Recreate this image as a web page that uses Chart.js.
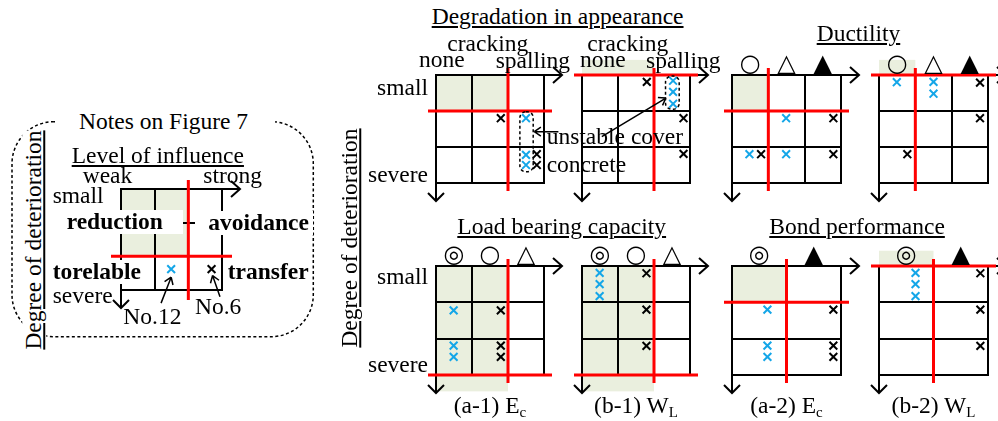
<!DOCTYPE html>
<html>
<head>
<meta charset="utf-8">
<script src="https://cdn.jsdelivr.net/npm/chart.js@4"></script>
<style>
html, body { margin: 0; padding: 0; background: #fff; overflow: hidden; }
#page { position: relative; width: 998px; height: 421px; overflow: hidden;
        font-family: "Liberation Serif", "Times New Roman", serif; font-size: 23.5px; color: #000; }
#page canvas { position: absolute; }
.lbl { position: absolute; white-space: nowrap; line-height: 1; z-index: 5; }
.u { text-decoration: underline; text-decoration-thickness: 1.5px; text-underline-offset: 2px; }
.b { font-weight: bold; }
.bg { background: #fff; }
.sym { font-family: "DejaVu Sans"; font-size: 24px; }
sub { font-size: 15px; vertical-align: -4px; line-height: 0; }
</style>
</head>
<body>
<div id="page">
  <svg width="998" height="421" style="position:absolute;left:0;top:0">
    <rect x="12" y="121.7" width="301.3" height="215" rx="42" ry="42"
          fill="none" stroke="#000" stroke-width="1.5" stroke-dasharray="3 2.5"/>
  </svg>
</div>
<script>
// marker positions in grid units: [column, row from top]
const a1DegCyan   = [[2.5, 1.2], [2.5, 2.22], [2.5, 2.5]];
const a1DegBlack  = [[1.8, 1.2], [2.8, 2.2], [2.8, 2.5]];
const b1DegCyan   = [[2.53, 0.16], [2.53, 0.47], [2.53, 0.8]];
const b1DegBlack  = [[1.8, 0.19], [2.82, 1.2], [2.82, 2.19]];
const a2DucCyan   = [[1.49, 1.2], [0.48, 2.2], [1.49, 2.2]];
const a2DucBlack  = [[2.79, 1.2], [0.8, 2.2], [2.79, 2.2]];
const b2DucCyan   = [[0.49, 0.2], [1.5, 0.19], [1.5, 0.52]];
const b2DucBlack  = [[2.78, 0.21], [2.78, 1.2], [0.78, 2.2]];
const a1LoadCyan  = [[0.49, 1.22], [0.49, 2.19], [0.49, 2.5]];
const a1LoadBlack = [[1.8, 1.22], [1.8, 2.19], [1.8, 2.5]];
const b1LoadCyan  = [[0.49, 0.19], [0.49, 0.5], [0.49, 0.83]];
const b1LoadBlack = [[1.79, 0.2], [1.79, 1.2], [1.79, 2.2]];
const a2BondCyan  = [[0.65, 1.2], [0.65, 2.19], [0.65, 2.5]];
const a2BondBlack = [[1.86, 1.2], [1.86, 2.19], [1.86, 2.5]];
const b2BondCyan  = [[0.67, 0.19], [0.67, 0.5], [0.67, 0.83]];
const b2BondBlack = [[1.86, 0.2], [1.86, 1.2], [1.86, 2.2]];
const notesCyan   = [[1.49, 2.38]];
const notesBlack  = [[2.69, 2.38]];

// column headers and captions
const ductilityHeads = ['○', '△', '▲'];
const loadHeads = ['◎', '○', '△'];
const bondHeads = ['◎', '▲'];
const captions = ['(a-1) E<sub>c</sub>', '(b-1) W<sub>L</sub>', '(a-2) E<sub>c</sub>', '(b-2) W<sub>L</sub>'];

const CYAN = '#14a6e8';
const RED = '#ff0000';
const SHADE = '#eaefde';
const FS = 23.5;
const page = document.getElementById('page');

const panels = [
  { left: 436, top: 75, w: 108, h: 108, cols: 3, shade: [0, 2, 0, 1], red: [2, 1],
    cyan: a1DegCyan, black: a1DegBlack,
    boxes: [[2.33, 2.70, 1.02, 2.69]], callouts: [[3.4, 1.575, 2.73, 1.575]] },
  { left: 582, top: 75, w: 108, h: 108, cols: 3, shade: [0, 2, -0.42, 0], red: [2, 0],
    cyan: b1DegCyan, black: b1DegBlack,
    boxes: [[2.32, 2.70, 0.03, 0.95]], callouts: [[0.55, 1.71, 2.33, 0.64]] },
  { left: 732, top: 75, w: 109, h: 108, cols: 3, shade: [0, 1, 0, 1], red: [1, 1],
    cyan: a2DucCyan, black: a2DucBlack, heads: ductilityHeads },
  { left: 879, top: 75, w: 109, h: 108, cols: 3, shade: [0, 1, -0.42, 0], red: [1, 0],
    cyan: b2DucCyan, black: b2DucBlack, heads: ductilityHeads },
  { left: 436, top: 266, w: 108, h: 109, cols: 3, shade: [0, 2, 0, 3.45], red: [2, 3],
    cyan: a1LoadCyan, black: a1LoadBlack, heads: loadHeads, caption: captions[0] },
  { left: 582, top: 266, w: 108, h: 109, cols: 3, shade: [0, 2, 0, 3.45], red: [2, 3],
    cyan: b1LoadCyan, black: b1LoadBlack, heads: loadHeads, caption: captions[1] },
  { left: 732, top: 266, w: 109, h: 109, cols: 2, shade: [0, 1, 0, 1], red: [1, 1],
    cyan: a2BondCyan, black: a2BondBlack, heads: bondHeads, caption: captions[2] },
  { left: 879, top: 266, w: 109, h: 109, cols: 2, shade: [0, 1, -0.42, 0], red: [1, 0],
    cyan: b2BondCyan, black: b2BondBlack, heads: bondHeads, caption: captions[3] },
  // notes on figure 7
  { left: 121, top: 189, w: 101, h: 101, cols: 3, shade: [0, 2, 0, 2], red: [2, 2], ext: 10,
    cyan: notesCyan, black: notesBlack,
    callouts: [[1.19, 3.39, 1.49, 2.62], [2.94, 3.2, 2.72, 2.57]] }
];

function drawArrow(ctx, x0, y0, x1, y1, len) {
  const ang = Math.atan2(y1 - y0, x1 - x0);
  ctx.beginPath();
  ctx.moveTo(x0, y0);
  ctx.lineTo(x1, y1);
  for (const s of [-1, 1]) {
    ctx.moveTo(x1, y1);
    ctx.lineTo(x1 - len * Math.cos(ang + s * 0.6), y1 - len * Math.sin(ang + s * 0.6));
  }
  ctx.stroke();
}

function decoPlugin(p) {
  const ext = p.ext || 8;
  const AR = 18;
  return {
    id: 'deco',
    beforeDraw(chart) {
      const { ctx, scales: { x, y } } = chart;
      const [sx0, sx1, sy0, sy1] = p.shade;
      const l = x.getPixelForValue(sx0), r = x.getPixelForValue(sx1);
      const t = y.getPixelForValue(sy0), b = y.getPixelForValue(sy1);
      ctx.save();
      ctx.fillStyle = SHADE;
      ctx.fillRect(l, Math.min(t, b), r - l, Math.abs(b - t));
      ctx.restore();
    },
    beforeDatasetsDraw(chart) {
      const { ctx, chartArea: a, scales: { x, y } } = chart;
      ctx.save();
      // axis arrows
      ctx.strokeStyle = '#000';
      ctx.lineWidth = 2;
      ctx.beginPath();
      ctx.moveTo(a.right, a.top); ctx.lineTo(a.right + AR, a.top);
      ctx.moveTo(a.right + AR - 9, a.top - 8); ctx.lineTo(a.right + AR, a.top); ctx.lineTo(a.right + AR - 9, a.top + 8);
      ctx.moveTo(a.left, a.bottom); ctx.lineTo(a.left, a.bottom + AR);
      ctx.moveTo(a.left - 8, a.bottom + AR - 8); ctx.lineTo(a.left, a.bottom + AR); ctx.lineTo(a.left + 8, a.bottom + AR - 8);
      ctx.stroke();
      // red boundaries
      const rx = x.getPixelForValue(p.red[0]);
      const ry = y.getPixelForValue(p.red[1]);
      ctx.strokeStyle = RED;
      ctx.lineWidth = 3;
      ctx.beginPath();
      ctx.moveTo(a.left - ext, ry); ctx.lineTo(a.right + ext, ry);
      ctx.moveTo(rx, a.top - ext + 1); ctx.lineTo(rx, a.bottom + ext);
      ctx.stroke();
      ctx.restore();
    },
    afterDraw(chart) {
      const { ctx, scales: { x, y } } = chart;
      ctx.save();
      ctx.strokeStyle = '#000';
      ctx.lineWidth = 1.5;
      ctx.setLineDash([3, 2.5]);
      (p.boxes || []).forEach(([x0, x1, y0, y1]) => {
        const l = x.getPixelForValue(x0), r = x.getPixelForValue(x1);
        const t = y.getPixelForValue(y0), b = y.getPixelForValue(y1);
        ctx.beginPath();
        ctx.roundRect(l, t, r - l, b - t, 6);
        ctx.stroke();
      });
      ctx.setLineDash([]);
      (p.callouts || []).forEach(([x0, y0, x1, y1]) => {
        drawArrow(ctx, x.getPixelForValue(x0), y.getPixelForValue(y0),
                  x.getPixelForValue(x1), y.getPixelForValue(y1), 8);
      });
      ctx.restore();
    }
  };
}

function makeChart(p) {
  const P = 40;
  const cv = document.createElement('canvas');
  cv.width = p.w + 2 * P;
  cv.height = p.h + 2 * P;
  cv.style.left = (p.left - P) + 'px';
  cv.style.top = (p.top - P) + 'px';
  page.appendChild(cv);
  const pts = arr => arr.map(([x, y]) => ({ x, y }));
  const axis = {
    type: 'linear', min: 0,
    ticks: { display: false, stepSize: 1 },
    grid: { color: '#000', lineWidth: 2, drawTicks: false },
    border: { color: '#000', width: 2 }
  };
  const marker = color => ({
    pointStyle: 'crossRot', pointRadius: 5.5, pointBorderWidth: 2,
    pointBorderColor: color, borderColor: color, pointBackgroundColor: color, showLine: false
  });
  new Chart(cv, {
    type: 'scatter',
    data: {
      datasets: [
        Object.assign({ data: pts(p.cyan) }, marker(CYAN)),
        Object.assign({ data: pts(p.black) }, marker('#000'))
      ]
    },
    options: {
      responsive: false,
      animation: false,
      devicePixelRatio: 1,
      layout: { padding: P },
      plugins: { legend: { display: false }, tooltip: { enabled: false } },
      scales: {
        x: Object.assign({}, axis, { max: p.cols, afterFit: s => { s.height = 0; } }),
        y: Object.assign({}, axis, { max: 3, reverse: true, afterFit: s => { s.width = 0; } })
      }
    },
    plugins: [decoPlugin(p)]
  });
}

function label(html, x, base, cls, align, style) {
  const d = document.createElement('div');
  d.className = 'lbl ' + (cls || '');
  d.innerHTML = html;
  d.style.left = x + 'px';
  d.style.top = (base - 0.8375 * FS) + 'px';
  if (align === 'center') d.style.transform = 'translateX(-50%)';
  if (align === 'right') d.style.transform = 'translateX(-100%)';
  if (style) d.style.cssText += style;
  page.appendChild(d);
  return d;
}

function vlabel(html, cx, cy, cls) {
  const d = document.createElement('div');
  d.className = 'lbl ' + (cls || '');
  d.innerHTML = html;
  d.style.left = cx + 'px';
  d.style.top = cy + 'px';
  d.style.transform = 'translate(-50%, -50%) rotate(-90deg)';
  page.appendChild(d);
}

panels.forEach(makeChart);

// column headers and captions from panel geometry
panels.forEach(p => {
  (p.heads || []).forEach((h, i) => {
    const d = document.createElement('div');
    d.className = 'lbl sym';
    d.textContent = h;
    d.style.left = (p.left + (i + 0.5) * p.w / p.cols) + 'px';
    d.style.top = (p.top - 12) + 'px';
    d.style.transform = 'translate(-50%, -50%)';
    page.appendChild(d);
  });
  if (p.caption) label(p.caption, p.left + p.w / 2, 414, '', 'center');
});

// main panel texts
label('Degradation in appearance', 431.7, 25, 'u');
label('cracking', 447.3, 51.7);
label('none', 419, 68);
label('spalling', 495.7, 69);
label('cracking', 587.3, 51.7);
label('none', 580, 68);
label('spalling', 646, 69);
label('Ductility', 816.7, 41.7, 'u');
label('small', 428, 96, '', 'right');
label('severe', 428, 183, '', 'right');
label('unstable cover', 546.7, 145);
label('concrete', 546.7, 173);
label('Load bearing capacity', 457.3, 235, 'u');
label('Bond performance', 769.3, 235, 'u');
label('small', 428, 285, '', 'right');
label('severe', 428, 372.7, '', 'right');
vlabel('Degree of deterioration', 350, 238, 'u');

// notes panel texts
label('Notes on Figure 7', 55, 129.3, 'bg', '', 'padding:0 27px 0 24px;');
label('Level of influence', 71.7, 164, 'u');
label('weak', 82.7, 184);
label('strong', 203.3, 184);
label('small', 52.7, 204);
label('reduction', 62, 230, 'b bg', '', 'width:116px;padding-left:4.7px;');
label('avoidance', 195, 231, 'b bg', '', 'padding:0 4px 0 13.3px;');
label('torelable', 50, 280, 'b bg', '', 'padding:0 2px 0 2.7px;');
label('transfer', 227.7, 280, 'b');
label('severe', 52.7, 304);
label('No.12', 123.3, 325);
label('No.6', 195, 315);
vlabel('Degree of deterioration', 34, 240, 'u bg');
</script>
</body>
</html>
